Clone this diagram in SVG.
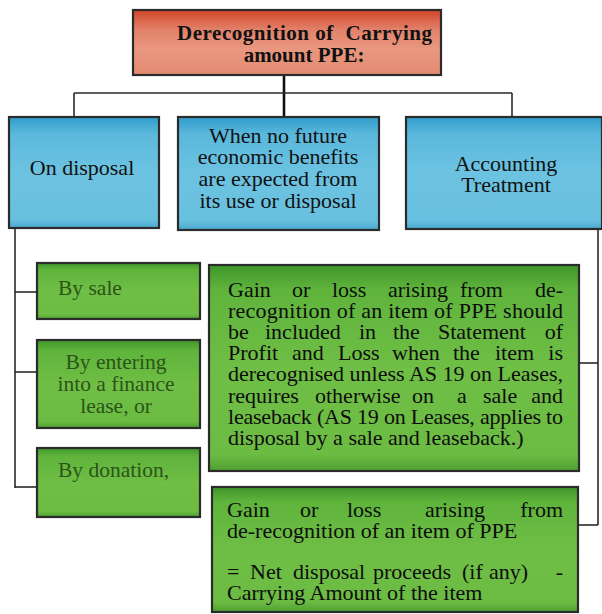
<svg xmlns="http://www.w3.org/2000/svg" width="602" height="614" viewBox="0 0 602 614">
<defs>
<linearGradient id="gRed" x1="0" y1="0" x2="0" y2="1">
<stop offset="0" stop-color="#cf4628"/>
<stop offset="0.3" stop-color="#e2816a"/>
<stop offset="0.6" stop-color="#e99780"/>
<stop offset="1" stop-color="#e48a72"/>
</linearGradient>
<linearGradient id="gBlue" x1="0" y1="0" x2="0" y2="1">
<stop offset="0" stop-color="#2f9ccb"/>
<stop offset="0.15" stop-color="#5ab8dc"/>
<stop offset="0.5" stop-color="#6cc3e1"/>
<stop offset="0.92" stop-color="#68c0df"/>
<stop offset="1" stop-color="#4aa9cf"/>
</linearGradient>
<linearGradient id="gGreen" x1="0" y1="0" x2="0" y2="1">
<stop offset="0" stop-color="#3f962a"/>
<stop offset="0.12" stop-color="#5fb43c"/>
<stop offset="0.5" stop-color="#6fbe45"/>
<stop offset="0.92" stop-color="#6cbb43"/>
<stop offset="1" stop-color="#4e9f32"/>
</linearGradient>
</defs>
<style>
.conn line{stroke:#2a2a2a;stroke-width:1.6;}
.box{stroke:#2b2b2b;stroke-width:2.2;}
.red{fill:url(#gRed);}
.blue{fill:url(#gBlue);}
.green{fill:url(#gGreen);}
.title{font-family:"Liberation Serif",serif;font-weight:bold;font-size:21px;fill:#111;text-anchor:middle;white-space:pre;}
.bt{font-family:"Liberation Serif",serif;font-size:22px;fill:#111;text-anchor:middle;}
.gt{font-family:"Liberation Serif",serif;font-size:21.5px;fill:#2c5418;}
.tx{font-family:"Liberation Serif",serif;font-size:22px;fill:#0d0d0d;}
.e{text-anchor:end;}
</style>
<rect width="602" height="614" fill="#ffffff"/>
<g id="connectors" class="conn">
<line x1="284" y1="75" x2="284" y2="117" style="stroke-width:2.6;stroke:#111"/>
<line x1="74" y1="93" x2="512" y2="93"/>
<line x1="74" y1="93" x2="74" y2="117"/>
<line x1="512" y1="93" x2="512" y2="117"/>
<line x1="15" y1="228" x2="15" y2="488"/>
<line x1="15" y1="292" x2="37" y2="292"/>
<line x1="15" y1="372" x2="37" y2="372"/>
<line x1="15" y1="487" x2="37" y2="487"/>
<line x1="598" y1="229" x2="598" y2="525"/>
<line x1="579" y1="363" x2="598" y2="363"/>
<line x1="578" y1="525" x2="598" y2="525"/>
</g>
<g id="title">
<rect class="box red" x="133" y="10" width="308" height="65"/>
<text class="title" x="304.5" y="40" xml:space="preserve" textLength="255" lengthAdjust="spacing">Derecognition of  Carrying</text>
<text class="title" x="304" y="62">amount PPE:</text>
</g>
<g id="on-disposal">
<rect class="box blue" x="9" y="117" width="150" height="111"/>
<text class="bt" x="82" y="175">On disposal</text>
</g>
<g id="no-future-benefits">
<rect class="box blue" x="178" y="117" width="201" height="113"/>
<text class="bt" x="278" y="143">When no future</text>
<text class="bt" x="278" y="164">economic benefits</text>
<text class="bt" x="278" y="186">are expected from</text>
<text class="bt" x="278" y="208">its use or disposal</text>
</g>
<g id="accounting-treatment">
<rect class="box blue" x="406" y="117" width="196" height="112"/>
<text class="bt" x="506" y="171">Accounting</text>
<text class="bt" x="506" y="192">Treatment</text>
</g>
<g id="by-sale">
<rect class="box green" x="37" y="263" width="163" height="56"/>
<text class="gt" x="58" y="295">By sale</text>
</g>
<g id="by-finance-lease">
<rect class="box green" x="37" y="340" width="163" height="88"/>
<text class="gt" x="116" y="369" text-anchor="middle">By entering</text>
<text class="gt" x="116" y="391" text-anchor="middle">into a finance</text>
<text class="gt" x="116" y="413" text-anchor="middle">lease, or</text>
</g>
<g id="by-donation">
<rect class="box green" x="37" y="448" width="163" height="69"/>
<text class="gt" x="58" y="477">By donation,</text>
</g>
<g id="gain-loss-rule">
<rect class="box green" x="209" y="265" width="370" height="206"/>
<text class="tx" y="297"><tspan x="228">Gain</tspan><tspan x="292">or</tspan><tspan x="332">loss</tspan><tspan x="388">arising</tspan><tspan x="460">from</tspan></text>
<text class="tx e" x="563" y="297">de-</text>
<text class="tx" x="228" y="318" textLength="335" lengthAdjust="spacing">recognition of an item of PPE should</text>
<text class="tx" y="339"><tspan x="228">be</tspan><tspan x="265">included</tspan><tspan x="359">in</tspan><tspan x="393">the</tspan><tspan x="438">Statement</tspan></text>
<text class="tx e" x="563" y="339">of</text>
<text class="tx" y="360"><tspan x="228">Profit</tspan><tspan x="292">and</tspan><tspan x="338">Loss</tspan><tspan x="392">when</tspan><tspan x="453">the</tspan><tspan x="495">item</tspan></text>
<text class="tx e" x="563" y="360">is</text>
<text class="tx" x="228" y="381" textLength="335" lengthAdjust="spacing">derecognised unless AS 19 on Leases,</text>
<text class="tx" y="403"><tspan x="228">requires</tspan><tspan x="315">otherwise</tspan><tspan x="412">on</tspan><tspan x="457">a</tspan><tspan x="483">sale</tspan></text>
<text class="tx e" x="563" y="403">and</text>
<text class="tx" x="228" y="424" textLength="335" lengthAdjust="spacing">leaseback (AS 19 on Leases, applies to</text>
<text class="tx" x="228" y="445">disposal by a sale and leaseback.)</text>
</g>
<g id="gain-loss-formula">
<rect class="box green" x="212" y="487" width="366" height="125"/>
<text class="tx" y="517"><tspan x="227">Gain</tspan><tspan x="300">or</tspan><tspan x="347">loss</tspan><tspan x="425">arising</tspan></text>
<text class="tx e" x="563" y="517">from</text>
<text class="tx" x="227" y="538">de-recognition of an item of PPE</text>
<text class="tx" y="579"><tspan x="227">=</tspan><tspan x="250">Net</tspan><tspan x="293">disposal</tspan><tspan x="373">proceeds</tspan><tspan x="462">(if</tspan><tspan x="489">any)</tspan></text>
<text class="tx e" x="563" y="579">-</text>
<text class="tx" x="227" y="600">Carrying Amount of the item</text>
</g>
</svg>
